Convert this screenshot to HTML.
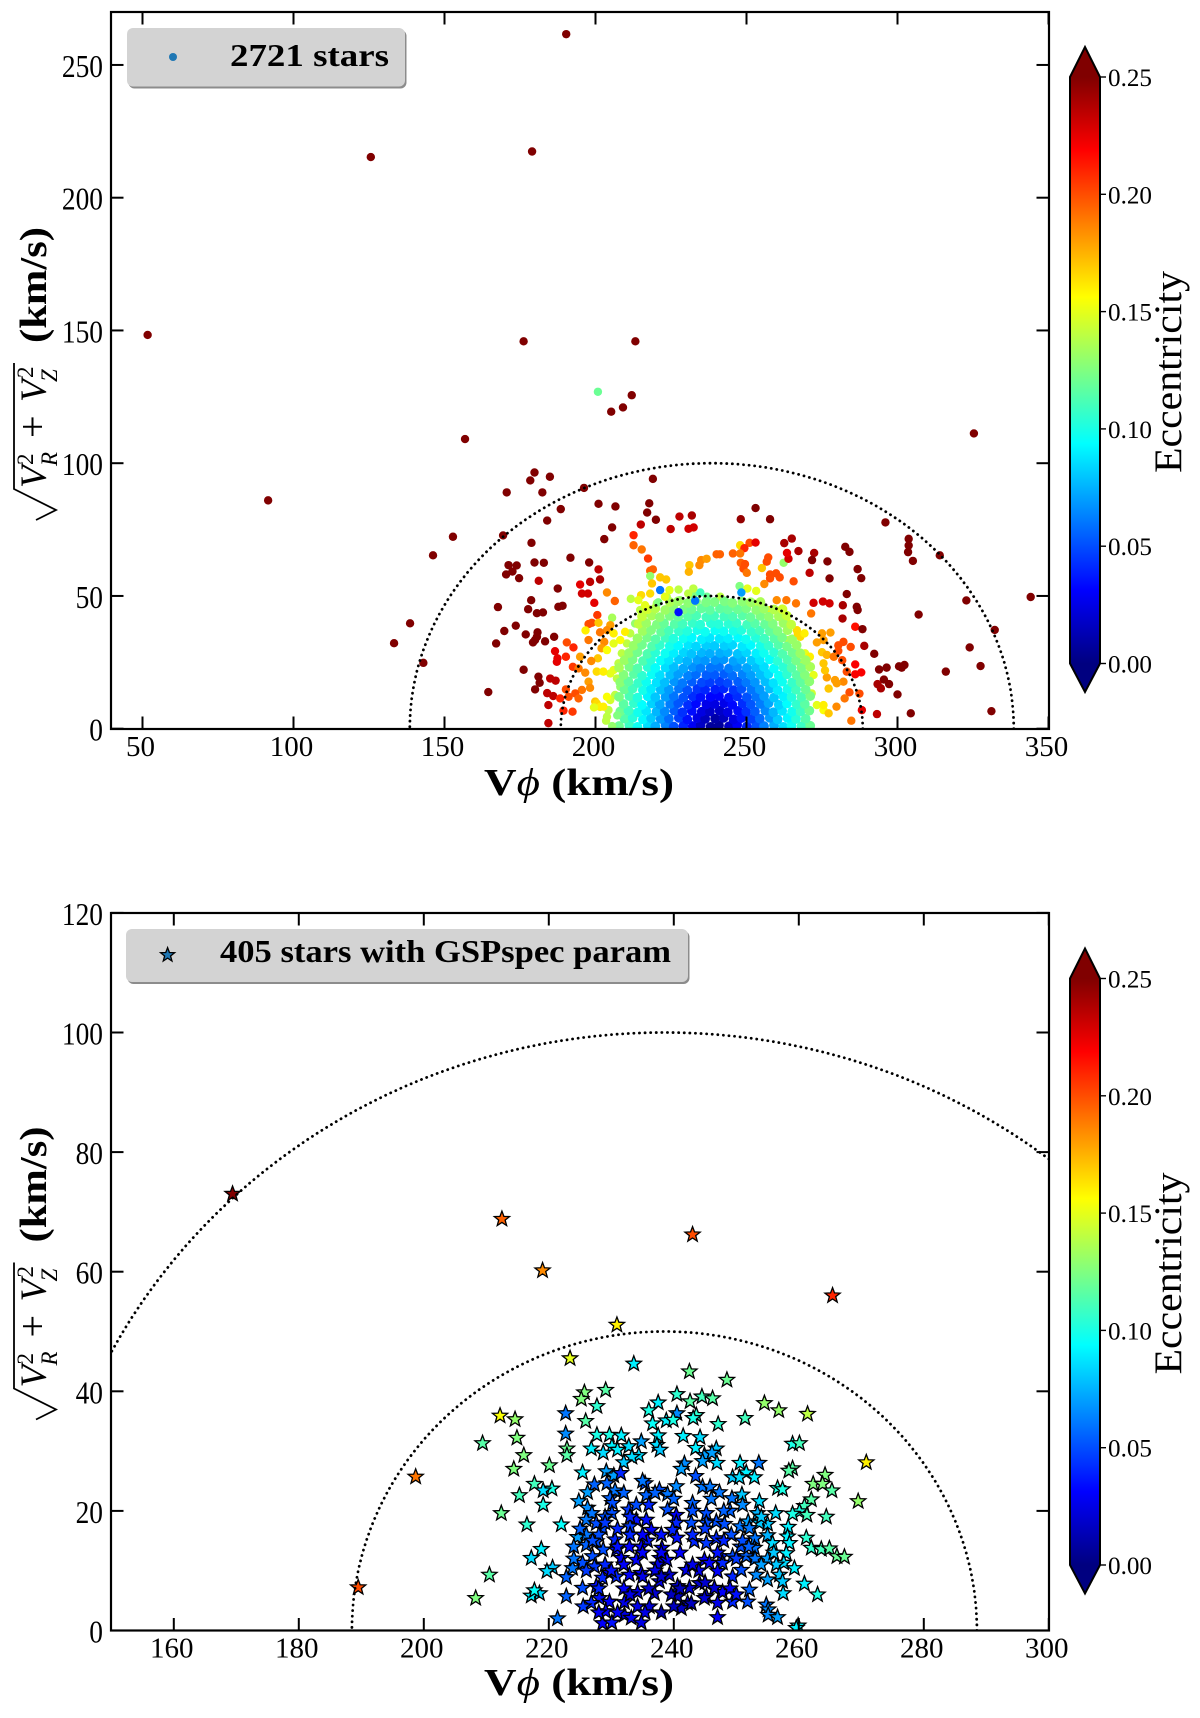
<!DOCTYPE html>
<html lang="en">
<head>
<meta charset="utf-8">
<title>Eccentricity in the Toomre diagram</title>
<style>
html,body{margin:0;padding:0;background:#fff;}
svg{display:block;font-family:"Liberation Serif",serif;}
text{fill:#000;}
</style>
</head>
<body>
<svg id="figure" xmlns="http://www.w3.org/2000/svg" width="1200" height="1718" viewBox="0 0 1200 1718">
  <defs>
    <clipPath id="clip-top"><rect x="111" y="12" width="938" height="717"></rect></clipPath>
    <clipPath id="clip-bottom"><rect x="111" y="913" width="938" height="717.5"></rect></clipPath>
    <linearGradient id="jet-gradient-top" x1="0" y1="1" x2="0" y2="0"></linearGradient>
    <linearGradient id="jet-gradient-bottom" x1="0" y1="1" x2="0" y2="0"></linearGradient>
  </defs>

  <g id="top-plot">
    <g id="top-marks" clip-path="url(#clip-top)"></g>
    <g id="top-arcs" clip-path="url(#clip-top)"></g>
    <g id="top-axes"></g>
    <g>
      <rect x="128.5" y="30" width="278" height="58.5" rx="6" fill="#8c8c8c"></rect>
      <rect x="127" y="28" width="278" height="58.5" rx="6" fill="#d3d3d3"></rect>
      <circle cx="173" cy="57" r="4" fill="#1f77b4"></circle>
      <text x="230" y="66" font-size="32" font-weight="700" textLength="159" lengthAdjust="spacingAndGlyphs">2721 stars</text>
    </g>
    <text x="484" y="795" font-size="38" font-weight="700" textLength="190" lengthAdjust="spacingAndGlyphs">V<tspan font-weight="400" font-style="italic">ϕ</tspan> (km/s)</text>
    <g>
      <path d="M14,363 L14,489 L56,510 L36,520" fill="none" stroke="#000" stroke-width="1.8"></path>
      <g transform="translate(46,520) rotate(-90)">
        <text x="32" y="0" font-size="37" font-style="italic">V</text>
        <text x="54" y="11" font-size="23" font-style="italic">R</text>
        <text x="55" y="-13" font-size="23">2</text>
        <text x="82" y="0" font-size="40">+</text>
        <text x="118" y="0" font-size="37" font-style="italic">V</text>
        <text x="138" y="11" font-size="23" font-style="italic">Z</text>
        <text x="142" y="-13" font-size="23">2</text>
        <text x="177" y="0" font-size="38" font-weight="700" textLength="116" lengthAdjust="spacingAndGlyphs">(km/s)</text>
      </g>
    </g>
    <g id="top-cbar"></g>
  </g>

  <g id="bottom-plot">
    <g id="bottom-marks" clip-path="url(#clip-bottom)"></g>
    <g id="bottom-arcs" clip-path="url(#clip-bottom)"></g>
    <g id="bottom-axes"></g>
    <g>
      <rect x="127.5" y="931" width="562" height="53" rx="6" fill="#8c8c8c"></rect>
      <rect x="126" y="929" width="562" height="53" rx="6" fill="#d3d3d3"></rect>
      <polygon id="legend-star" fill="#1f77b4" stroke="#000" stroke-width="1.3"></polygon>
      <text x="220" y="962" font-size="32" font-weight="700" textLength="451" lengthAdjust="spacingAndGlyphs">405 stars with GSPspec param</text>
    </g>
    <text x="484" y="1695" font-size="38" font-weight="700" textLength="190" lengthAdjust="spacingAndGlyphs">V<tspan font-weight="400" font-style="italic">ϕ</tspan> (km/s)</text>
    <g>
      <path d="M14,1262.5 L14,1388.5 L56,1409.5 L36,1419.5" fill="none" stroke="#000" stroke-width="1.8"></path>
      <g transform="translate(46,1419.5) rotate(-90)">
        <text x="32" y="0" font-size="37" font-style="italic">V</text>
        <text x="54" y="11" font-size="23" font-style="italic">R</text>
        <text x="55" y="-13" font-size="23">2</text>
        <text x="82" y="0" font-size="40">+</text>
        <text x="118" y="0" font-size="37" font-style="italic">V</text>
        <text x="138" y="11" font-size="23" font-style="italic">Z</text>
        <text x="142" y="-13" font-size="23">2</text>
        <text x="177" y="0" font-size="38" font-weight="700" textLength="116" lengthAdjust="spacingAndGlyphs">(km/s)</text>
      </g>
    </g>
    <g id="bottom-cbar"></g>
  </g>
</svg>

<script>
/* ---------- tick labels ---------- */
const topXTicks = [50,100,150,200,250,300,350];
const topYTicks = [0,50,100,150,200,250];
const bottomXTicks = [160,180,200,220,240,260,280,300];
const bottomYTicks = [0,20,40,60,80,100,120];
const cbarTicks = ['0.00','0.05','0.10','0.15','0.20','0.25'];
const arcRadii = [50,100];
const arcCentre = 238.5;

/* ---------- top panel: yellow-green rim of the distribution ---------- */
const rimVphi = [
206.5,208.2,207.1,206,207.6,208.7,210.4,211.5,213.1,208.2,
209.8,214.8,217.5,220.3,223.6,228,232.4,236.9,241.3,243,
245.7,252.3,255.1,257.8,260.6,263.4,266.7,267.8,263.9,269.4,
271,267.2,270,272.2,268.9,271.6,273.3,269.4,275.5,266.1,
269.4,204.9,204.3,208.2,204.9,203.8,199.9,202.6,211.5
];
const rimVperp = [
12.7,15.8,18.9,22.1,24.6,28.4,32.1,35.9,39.6,33.4,
36.5,44.7,43.4,47.2,49.7,48.4,50.3,49.7,49.7,47.2,
45.9,47.2,44.7,44.7,43.4,40.3,37.1,34.6,33.4,28.4,
27.1,25.2,24.6,20.2,18.3,13.3,8.9,8.3,7,3.3,
3,10.8,7,5.1,20.8,12,10.2,8.3,6.4
];
const rimEcc = [
.14,.13,.14,.15,.14,.14,.14,.14,.13,.155,
.16,.14,.13,.135,.14,.13,.125,.12,.14,.14,
.125,.15,.15,.16,.155,.15,.165,.165,.14,.15,
.16,.145,.15,.15,.14,.145,.15,.13,.155,.125,
.135,.145,.14,.12,.15,.155,.17,.16,.11
];

/* ---------- top panel: dense core of the distribution ---------- */
const coreVphi = [
207.8,211.2,213.9,217.3,219.8,223.2,225.9,229.1,232.2,234.8,238.1,240.9,244.2,246.9,250.1,253.2,255.8,259.1,262.2,264.9,268.2,271.1,
209.6,212.3,215.7,218.4,221.6,224.3,227.6,230.4,233.7,236.3,239.6,242.4,245.7,248.3,251.6,254.4,257.7,260.3,263.6,266.4,269.6,
208.2,210.9,214.1,216.8,220.2,222.9,226.1,228.8,231.9,235.2,237.9,241.1,243.8,247.2,249.9,252.8,256.2,258.9,261.8,265.1,267.9,270.8,
209.3,212.7,215.4,218.6,221.3,224.7,227.4,230.6,233.3,236.7,239.4,242.6,245.3,248.7,251.4,254.6,257.3,260.7,263.4,266.6,269.3,
207.8,211.2,213.9,217.3,219.8,223.2,225.9,229.1,232.2,234.8,238.1,240.9,244.2,246.9,250.1,253.2,255.8,259.1,262.2,264.9,268.2,271.1,
209.6,212.3,215.7,218.4,221.6,224.3,227.6,230.4,233.7,236.3,239.6,242.4,245.7,248.3,251.6,254.4,257.7,260.3,263.6,266.4,269.6,
208.2,210.9,214.1,216.8,220.2,222.9,226.1,228.8,231.9,235.2,237.9,241.1,243.8,247.2,249.9,252.8,256.2,258.9,261.8,265.1,267.9,270.8,
209.3,212.7,215.4,218.6,221.3,224.7,227.4,230.6,233.3,236.7,239.4,242.6,245.3,248.7,251.4,254.6,257.3,260.7,263.4,266.6,269.3,
207.8,211.2,213.9,217.3,219.8,223.2,225.9,229.1,232.2,234.8,238.1,240.9,244.2,246.9,250.1,253.2,255.8,259.1,262.2,264.9,268.2,271.1,
209.6,212.3,215.7,218.4,221.6,224.3,227.6,230.4,233.7,236.3,239.6,242.4,245.7,248.3,251.6,254.4,257.7,260.3,263.6,266.4,269.6,
211.1,213.9,217.2,219.8,223.1,225.9,229.2,231.8,235.1,237.9,241.2,243.8,247.1,249.9,253.2,255.8,259.1,261.9,265.2,267.8,
212.6,215.4,218.7,221.3,224.6,227.4,230.7,233.3,236.6,239.4,242.7,245.3,248.6,251.4,254.7,257.3,260.6,263.4,266.6,
213.9,217.1,219.9,223.2,225.8,229.1,231.9,235.2,237.8,241.1,243.9,247.2,249.8,253.1,255.9,259.2,261.8,265.1,
215.6,218.4,221.7,224.3,227.6,230.4,233.7,236.3,239.6,242.4,245.7,248.3,251.6,254.4,257.7,260.3,263.6,
214.3,216.8,220.3,222.7,226.2,228.8,232.1,234.7,238.2,240.8,244.1,246.7,250.2,252.8,256.1,258.7,262.2,264.8,
215.4,218.7,221.3,224.6,227.4,230.6,233.4,236.7,239.3,242.6,245.4,248.7,251.3,254.6,257.4,260.7,263.3,
217.2,219.8,223.1,225.9,229.2,231.8,235.1,237.9,241.2,243.8,247.1,249.9,253.2,255.8,259.1,261.9,
224.6,227.4,230.7,233.3,236.6,239.4,242.7,245.3,248.6,251.4,254.6
];
const coreVperp = [
1,1.3,.7,1.2,.9,1.4,.8,1.1,1,1.3,.7,1.2,.9,1.4,.8,1.1,1,1.3,.7,1.2,.9,1.1,
3.8,4.1,3.5,4,3.7,3.8,4.1,3.5,4,3.7,3.8,4.1,3.5,4,3.7,3.8,4.1,3.5,4,3.7,3.8,
6.5,6.8,6.2,6.7,6.4,6.5,6.8,6.2,6.7,6.4,6.5,6.8,6.2,6.7,6.4,6.5,6.8,6.2,6.7,6.4,6.5,6.8,
9.3,9.6,9,9.5,9.2,9.3,9.6,9,9.5,9.2,9.3,9.6,9,9.5,9.2,9.3,9.6,9,9.5,9.2,9.3,
12,12.3,11.7,12.2,11.9,12,12.3,11.7,12.2,11.9,12,12.3,11.7,12.2,11.9,12,12.3,11.7,12.2,11.9,12,12.3,
14.8,15.1,14.5,15,14.7,14.8,15.1,14.5,15,14.7,14.8,15.1,14.5,15,14.7,14.8,15.1,14.5,15,14.7,14.8,
17.5,17.8,17.2,17.7,17.4,17.5,17.8,17.2,17.7,17.4,17.5,17.8,17.2,17.7,17.4,17.5,17.8,17.2,17.7,17.4,17.5,17.8,
20.3,20.6,20,20.5,20.2,20.3,20.6,20,20.5,20.2,20.3,20.6,20,20.5,20.2,20.3,20.6,20,20.5,20.2,20.3,
23,23.3,22.7,23.2,22.9,23,23.3,22.7,23.2,22.9,23,23.3,22.7,23.2,22.9,23,23.3,22.7,23.2,22.9,23,23.3,
25.8,26.1,25.5,26,25.7,25.8,26.1,25.5,26,25.7,25.8,26.1,25.5,26,25.7,25.8,26.1,25.5,26,25.7,25.8,
28.5,28.8,28.2,28.7,28.4,28.5,28.8,28.2,28.7,28.4,28.5,28.8,28.2,28.7,28.4,28.5,28.8,28.2,28.7,28.4,
31.3,31.6,31,31.5,31.2,31.3,31.6,31,31.5,31.2,31.3,31.6,31,31.5,31.2,31.3,31.6,31,31.5,
34,34.3,33.7,34.2,33.9,34,34.3,33.7,34.2,33.9,34,34.3,33.7,34.2,33.9,34,34.3,33.7,
36.8,37.1,36.5,37,36.7,36.8,37.1,36.5,37,36.7,36.8,37.1,36.5,37,36.7,36.8,37.1,
39.5,39.8,39.2,39.7,39.4,39.5,39.8,39.2,39.7,39.4,39.5,39.8,39.2,39.7,39.4,39.5,39.8,39.2,
42.3,42.6,42,42.5,42.2,42.3,42.6,42,42.5,42.2,42.3,42.6,42,42.5,42.2,42.3,42.6,
45,45.3,44.7,45.2,44.9,45,45.3,44.7,45.2,44.9,45,45.3,44.7,45.2,44.9,45,
47.7,48,47.4,47.9,47.6,47.7,48,47.4,47.9,47.6,47.7
];
const coreEcc = [
.12,.108,.097,.086,.074,.063,.051,.04,.029,.017,.007,.007,.017,.029,.04,.051,.063,.074,.086,.097,.108,.12,
.114,.103,.092,.081,.069,.058,.047,.035,.025,.015,.01,.015,.025,.035,.047,.058,.069,.081,.092,.103,.114,
.121,.109,.098,.088,.076,.065,.054,.043,.034,.024,.018,.018,.024,.034,.043,.054,.065,.076,.088,.098,.109,.121,
.116,.106,.094,.083,.072,.062,.052,.042,.033,.026,.024,.026,.033,.042,.052,.062,.072,.083,.094,.106,.116,
.124,.112,.102,.091,.08,.07,.06,.051,.042,.035,.032,.032,.035,.042,.051,.06,.07,.08,.091,.102,.112,.124,
.12,.11,.099,.089,.078,.069,.06,.051,.044,.04,.038,.04,.044,.051,.06,.069,.078,.089,.099,.11,.12,
.128,.117,.107,.097,.087,.078,.068,.061,.054,.049,.046,.046,.049,.054,.061,.068,.078,.087,.097,.107,.117,.128,
.126,.116,.105,.096,.086,.078,.07,.063,.058,.054,.053,.054,.058,.063,.07,.078,.086,.096,.105,.116,.126,
.135,.124,.114,.104,.095,.086,.078,.072,.067,.062,.06,.06,.062,.067,.072,.078,.086,.095,.104,.114,.124,.135,
.132,.123,.113,.104,.095,.088,.081,.075,.071,.068,.067,.068,.071,.075,.081,.088,.095,.104,.113,.123,.132,
.131,.122,.113,.104,.097,.09,.084,.079,.076,.074,.074,.076,.079,.084,.09,.097,.104,.113,.122,.131,
.131,.122,.114,.106,.099,.093,.088,.084,.082,.081,.082,.084,.088,.093,.099,.106,.114,.122,.131,
.131,.123,.115,.109,.102,.097,.093,.09,.088,.088,.09,.093,.097,.102,.109,.115,.123,.131,
.133,.125,.118,.111,.106,.102,.099,.097,.096,.097,.099,.102,.106,.111,.118,.125,.133,
.141,.132,.125,.119,.115,.11,.107,.104,.103,.103,.104,.107,.11,.115,.119,.125,.132,.141,
.142,.135,.129,.124,.119,.115,.112,.11,.11,.11,.112,.115,.119,.124,.129,.135,.142,
.145,.138,.132,.128,.124,.12,.118,.117,.117,.118,.12,.124,.128,.132,.138,.145,
.136,.132,.128,.126,.124,.124,.124,.126,.128,.132,.136
];

/* ---------- top panel: sparse halo and outliers ---------- */
const haloVphi = [
190.3,125.6,179,51.7,176.2,213.2,205.2,209.1,212,156.8,
325.3,91.6,133.3,138.6,143,146.2,152.8,344.1,332.2,331.1,
296,303.7,303.7,303.5,314,305.1,307,316,322.8,323.9,
327.5,304.4,302.3,300.5,179.8,184.9,178.4,196.2,219,170.6,
182.4,188.5,201,206.6,217.8,217.1,220,184,205.5,202.9,
169.4,178.8,191.7,171.2,173.9,170.4,172.5,174.7,179.8,182.9,
197.9,187.5,178.7,167.7,177.7,180.6,182.6,187.7,189.1,173.6,
169.8,176.9,180.8,180.6,180,179.3,183.3,186.3,167.1,176.2,
164.5,181.1,181.5,180,200.8,
181.2,185,186.8,184,186,184.4,184.4,186.6,187.4,187.2,
190.2,192.7,190.5,194.9,198.2,201.5,201,195.5,197.5,199.6,
203.8,206.4,200.6,197.7,198.8,201,196.7,205.5,204.9,203.8,
201.5,197.7,202.9,202,206,206,203.8,194.9,200.8,198.6,
192.5,194.4,196.6,200.4,202.6,197.7,198.2,195.5,193.3,194.4,
190.2,188.3,191.1,189.4,192.4,200.4,201.5,203.8,212.6,212.6,
215.3,215,217.4,218.1,219,218.1,221.4,223.4,218.7,215.1,
218.1,221.4,224.5,223,211.7,214.2,216.4,220.8,227.5,227.5,
233,234.7,232.4,230.7,231.1,230.9,234.4,235,236.8,240.1,
241.2,245.5,227.8,231.9,224.9,230.8,232.5,248.1,253,257.8,
247.9,251,253,249.3,247.9,248.1,249.5,249,250.1,255.1,
256.7,257.2,262.3,263.9,263.4,262.5,265,267.2,272.4,271.7,
276.8,282.7,284.1,286.8,288,277.5,270.9,257.8,259.8,261,
257.8,255.9,253.2,250.3,247.7,248.3,265.6,260,263.2,266.4,
272.2,275.3,277.5,271.4,281.9,283.2,286.5,286.8,281.8,286,
288.4,289,292.3,275,277.8,273.3,275.5,267,269.2,282.1,
280.4,284.5,280.4,275,276.6,278.9,281.7,286,288,286,
283.2,282.1,279.9,276.6,277.2,279.3,275.5,276,293.9,296.4,
295.5,297.2,293.4,294.5,300,301.4,284.1,282.5,279.8,277.2,
275.5,287.4,288.2,293.2,284.7,199.5,203.5,205.5,207.2
];
const haloVperp = [
261.6,215.3,217.4,148.3,145.9,145.9,119.4,121,125.6,109.1,
111.2,86,32.2,39.7,24.8,65.3,72.3,49.6,37.2,6.6,
77.7,71.5,69,66.5,65.3,63.2,43,21.5,48.3,30.6,
23.6,5.8,24,23.5,96.5,94.9,93.5,90.7,94.1,89,
89,82.7,84.7,83.7,84.9,81.4,78.7,78.4,75.8,71.4,
72.8,70,64.4,61.6,61.5,58.1,59.2,56.7,62.6,62.5,
62.6,52.8,48.4,45.8,45,43.5,43.8,45.9,46.3,38.8,
36.8,35.5,36.3,34.6,33.4,32.5,32.9,34.6,32.1,22.2,
13.8,19.6,17.3,14.8,126.9,
55.7,18.9,18.1,13.4,12.3,8.9,2.1,29.2,26.5,25.2,
27.1,30.6,32.5,54.3,55.3,56.2,60,50.9,50.9,47.4,
51.3,48.1,42.8,39.4,39.9,39.9,37,41.8,39,37.1,
36.3,33.4,32.7,30.3,35.9,32.1,29.6,27.1,26.5,25.5,
23.3,22.7,21.1,21.5,21.5,17.7,15.4,14.6,13.3,11.4,
14.8,11.4,12,6.8,6.4,9.5,8.2,4.5,72.9,69.1,
67.5,76.9,64.1,59.5,60,57.5,57,56.2,54.7,50.3,
50.9,52.2,52.2,49.7,48.9,48.4,46.5,47.6,52.4,43.9,
48.2,51.3,52.8,50.9,61.6,59.1,61.6,63.5,64,65.7,
65.7,66,79.9,80.3,75.2,75.3,75.8,78.9,83.1,78.9,
69.1,70,70.1,68,66,62.5,62,60.3,58.7,60.5,
62.9,64.5,62.5,64,66.2,69.9,71.6,66.9,66.2,63.5,
63,68.5,66.6,60.1,56.7,56.6,58.7,58.1,58.5,57,
56.6,54.5,51.9,52.8,53.7,51.3,55.5,48.4,48.4,47.2,
47.4,47.9,47.2,43.4,46.5,50.7,45.9,44.7,41.5,38.4,
37.5,31.2,28.2,35.9,36.2,32.5,33.4,35.9,35.9,32.7,
31.4,30.8,29.3,28.8,27.8,27.1,25.8,24.2,21.2,20.5,
21.5,17.7,17.1,19.3,15.1,18.3,24.6,22,22.3,23,
18.5,16.8,16.8,15.2,12.9,23,13.7,11.4,8.3,5.8,
8.9,13.2,7,5.5,3,8,3,1,5
];
const haloEcc = [
.3,.3,.3,.3,.3,.3,.3,.3,.3,.3,
.3,.3,.3,.3,.3,.3,.3,.3,.3,.3,
.3,.3,.3,.3,.3,.3,.3,.3,.3,.3,
.3,.3,.3,.3,.3,.3,.3,.3,.3,.3,
.3,.3,.3,.3,.3,.3,.26,.3,.3,.3,
.3,.3,.3,.3,.3,.3,.3,.3,.3,.3,
.3,.3,.3,.3,.3,.3,.3,.3,.3,.3,
.3,.3,.3,.3,.3,.3,.3,.3,.3,.3,
.3,.26,.26,.26,.12,
.235,.235,.235,.235,.235,.235,.235,.225,.225,.225,
.21,.21,.2,.225,.235,.24,.235,.23,.23,.225,
.185,.195,.205,.2,.2,.17,.16,.135,.18,.185,
.19,.19,.185,.18,.16,.15,.155,.18,.17,.185,
.205,.19,.185,.165,.16,.18,.185,.19,.2,.195,
.2,.21,.2,.21,.205,.165,.16,.14,.21,.195,
.19,.235,.205,.195,.195,.13,.17,.17,.17,.165,
.165,.06,.15,.15,.14,.15,.15,.125,.14,.035,
.06,.11,.14,.14,.17,.175,.185,.185,.18,.195,
.195,.195,.235,.24,.235,.23,.23,.245,.28,.26,
.165,.2,.225,.21,.19,.195,.2,.2,.19,.17,
.2,.2,.13,.23,.225,.24,.24,.24,.24,.25,
.26,.27,.27,.27,.27,.26,.235,.2,.2,.2,
.2,.185,.15,.15,.125,.07,.2,.185,.19,.19,
.23,.23,.23,.19,.24,.27,.27,.27,.24,.215,
.27,.24,.27,.18,.18,.18,.18,.165,.16,.2,
.2,.2,.2,.17,.175,.19,.2,.22,.22,.22,
.2,.185,.18,.18,.17,.18,.17,.17,.27,.27,
.27,.27,.24,.24,.27,.27,.2,.19,.185,.17,
.16,.2,.225,.235,.19,.15,.14,.13,.125
];

/* ---------- bottom panel: stars with GSPspec parameters ---------- */
const starVphi = [
169.4,212.5,219,243,265.4,198.7,189.5,230.9,223.4,233.6,
242.5,248.5,229.1,225.7,225.2,227.7,222.7,212.2,214.6,222.7,
214.9,209.4,222.9,222.9,216,225.9,240.5,237.5,236,242.6,
244.5,246.2,254.5,256.8,261.4,251.4,247.1,240.5,243.6,243.1,
238.8,239.9,236.6,237.5,227.7,229.7,231.6,241.5,244.2,259,
260.1,234.8,230.1,232.8,237.3,231,237.8,243.5,226.8,228.7,
246.8,244.9,234.4,233.3,246.1,220.1,214.4,225.4,232,246.9,
250.6,253.6,244.6,241.7,259,258.4,229.2,241.2,230.4,231.5,
251.6,249.4,250.5,252.9,243.5,264.2,217.7,220.5,219.1,227.3,
229.3,235.4,262.3,263.8,256.6,257.4,265.3,240.4,244.6,245.8,
237.7,239,235.6,237,247.3,243,226.2,230.6,229.8,215.3,
269.5,270.8,262,249.3,250.9,253.7,219.1,224.8,230.2,260.9,
260.1,259,261.3,256.3,253.4,264.4,212.4,216.5,222,232.8,
239,240.4,245.2,226.2,226.9,226,230.1,234,235.6,233,
236.4,240.4,242.8,246.8,248.1,245.2,250.6,251.9,255,258.3,
253.7,228.6,227.6,252.1,239.8,249.2,224.6,255,253,258.2,
261.2,240.5,235.8,230.6,243.3,246.8,245.2,255.8,258.5,250.7,
252.9,262,263.6,264.9,266.1,267.3,238.1,232.9,234.8,218.8,
217.2,226,227.6,228.7,230.8,227,231.6,234,237.8,238.9,
244.9,247.6,247.8,249.4,251.6,258,257.6,256.4,259.3,223.8,
220.6,219.7,210.5,222.8,225.4,227.3,229.7,230.8,228.6,232.9,
234.8,237.4,237.7,239.3,242,244.1,245.7,247,249.4,250.8,
253.2,255,256.9,260.9,257.4,257.5,263,252.1,249.4,251.8,
247.8,246.5,245.2,242.5,240.6,242.2,240.6,239.6,236.9,234.2,
227.6,225.4,222.8,217.2,218.5,217.7,208.3,228.1,229.7,226.8,
225.5,232.1,234.2,236.1,235.4,229.1,232.1,233.2,234.8,241.2,
242.8,247,247,244.9,254.8,255.1,255.1,256.6,221.4,228.6,
230.1,259.9,259.6,
228,229,231,233,235,236,238,241,243,249,
224,229,232,240,244,248,251,253,255,226,
225,227,229,231,233,235,237,232,230,228,
236,238,241,243,245,247,249,250,252,254,
231,233,235,238,224,226,228,234,238,243,
246,248,251,254,256,232,235,240,245,250
];
const starVperp = [
73,68.8,60.2,66.2,56,25.7,7.2,51.1,45.5,44.6,
43.3,41.9,40.2,39.8,38.7,37.5,36.3,35.9,35.3,32.9,
32.2,31.3,30.4,29.3,29.3,35,39.5,38.1,36.8,38.3,
39.1,38.8,38,36.8,36.2,35.5,34.5,36.3,36,35.5,
35.1,35.2,34.6,32.6,32.7,32.7,32.6,32.5,32.3,31.2,
31.3,31.6,30.8,30.8,31,30.2,30.2,30.5,30.4,29.7,
30.4,29.3,29.3,29,29.7,27.6,27,26.4,28.1,28,
28,28,28.3,27.9,27.1,26.7,26.6,27,25.9,26.3,
26.4,25.6,25.6,25.6,25.8,26,24.5,23.7,23.4,24.4,
24.6,24.6,24.5,24.5,23.8,23.6,23.4,24.1,24,24,
23.5,22.8,22.6,23,23.1,21.3,23.1,23.4,22.1,22.6,
21.6,28.1,21.9,22.1,22.7,21.6,21,21.6,21.3,20.8,
19.9,19.5,19.3,19.6,19.6,19,19.6,17.7,17.7,20.2,
20.2,19.3,19.6,20.5,19.6,18.5,19.6,18.5,18.5,17.4,
16.8,18,18,18.2,17.8,18,17.4,18.2,17.8,17.3,
18,17.1,17.9,17.1,16.8,16,15.6,15.9,15.4,15.7,
15.5,15.5,15,15.2,14.9,15.4,14.6,14.6,14.6,14,
13.8,13.8,13.6,13.7,12.4,12.3,13.8,14,14,13.6,
12.1,14.3,14.9,13.5,13.5,12.4,12.1,11.8,12.1,11.8,
11.8,12.4,11.3,12.4,12.4,12.9,11.3,11,10.4,10.4,
10.5,9.9,9.3,8.9,11.3,10.7,9.6,9,8.8,9.3,
9.6,11,8.2,9.3,10.1,7.9,11.3,9.9,9,10.1,
9.3,8.5,9.3,7.8,8.2,6.2,6,6.8,4.8,4.8,
6.4,7.1,5.7,7.1,7.4,4.6,5.7,6,6.2,6.4,
7.4,7.1,5.7,5.8,6.2,6.7,5.4,5.4,4.8,4.6,
4,4.7,4,4,3,3.2,2.6,2.1,1.3,3.7,
4.5,4.6,2.2,5.4,4.3,3.5,2.6,2.2,2,1.2,
1.3,.8,.4,
16,19,17,19,16,21,13,13,16,20,
12,11,7,4,10,15,15,12,12,16,
17,15,18,14,16,13,10,11,10,7,
7,9,7,11,8,13,7,12,14,11,
3,6,9,3,14,10,3,21,16,20,
22,20,21,19,13,23,25,22,17,6
];
const starEcc = [
.26,.195,.185,.2,.21,.19,.2,.16,.15,.09,
.12,.12,.115,.125,.125,.105,.06,.155,.13,.065,
.125,.115,.12,.115,.125,.115,.105,.09,.1,.115,
.11,.115,.13,.13,.14,.11,.105,.065,.105,.1,
.09,.1,.095,.09,.1,.1,.09,.09,.085,.1,
.11,.07,.09,.085,.085,.09,.08,.09,.09,.085,
.08,.07,.085,.085,.07,.12,.125,.09,.08,.085,
.09,.06,.07,.065,.115,.115,.07,.07,.07,.04,
.09,.08,.085,.09,.05,.125,.11,.1,.085,.055,
.055,.05,.125,.125,.1,.1,.115,.065,.06,.06,
.05,.06,.055,.055,.06,.055,.07,.06,.055,.11,
.13,.16,.115,.06,.08,.085,.1,.07,.05,.11,
.1,.1,.11,.085,.075,.11,.12,.105,.095,.045,
.05,.03,.05,.065,.06,.06,.05,.035,.035,.045,
.03,.04,.05,.05,.05,.05,.06,.07,.08,.09,
.08,.05,.05,.06,.04,.05,.07,.075,.06,.09,
.105,.035,.035,.04,.04,.04,.045,.085,.09,.05,
.06,.105,.11,.115,.12,.12,.03,.03,.03,.09,
.085,.055,.05,.05,.035,.05,.03,.03,.03,.03,
.03,.04,.04,.05,.055,.09,.085,.08,.09,.06,
.08,.085,.115,.055,.05,.045,.03,.04,.04,.03,
.03,.025,.025,.02,.025,.02,.03,.03,.04,.05,
.065,.07,.08,.09,.08,.085,.1,.055,.04,.05,
.03,.02,.02,.02,.02,.02,.015,.015,.02,.025,
.035,.05,.055,.09,.085,.095,.125,.035,.03,.04,
.045,.025,.025,.02,.025,.03,.025,.03,.025,.015,
.015,.025,.03,.02,.06,.065,.065,.07,.06,.03,
.035,.09,.09,
.05,.05,.04,.04,.03,.04,.03,.03,.04,.055,
.06,.04,.03,.015,.025,.04,.05,.06,.07,.06,
.055,.05,.045,.035,.04,.03,.025,.03,.035,.04,
.02,.02,.015,.025,.02,.035,.03,.045,.055,.07,
.03,.025,.025,.01,.06,.045,.03,.05,.035,.05,
.06,.055,.065,.08,.08,.055,.06,.055,.045,.035
];

/* ---------- scales ---------- */
const NS = 'http://www.w3.org/2000/svg';
const eccMax = 0.25;
const topX = v => 595.5 + (v - 200) * 3.02;
const topY = e => 728.7 - e * 2.655;
const botX = v => 111.3 + (v - 150) * 6.25;
const botY = e => 1630.5 - e * 5.98;

function jet(value) {
  const t = Math.max(0, Math.min(1, value / eccMax));
  const ch = c => Math.round(255 * Math.max(0, Math.min(1, 1.5 - Math.abs(4 * t - c))));
  return 'rgb(' + ch(3) + ',' + ch(2) + ',' + ch(1) + ')';
}
function make(tag, parent, attrs) {
  const el = document.createElementNS(NS, tag);
  for (const k in attrs) el.setAttribute(k, attrs[k]);
  parent.appendChild(el);
  return el;
}
function starPoints(cx, cy, R) {
  const pts = [];
  for (let k = 0; k < 10; k++) {
    const r = k % 2 ? R * 0.42 : R;
    const a = -Math.PI / 2 + k * Math.PI / 5;
    pts.push((cx + r * Math.cos(a)).toFixed(2) + ',' + (cy + r * Math.sin(a)).toFixed(2));
  }
  return pts.join(' ');
}

/* ---------- marks ---------- */
const topMarks = document.getElementById('top-marks');
for (let i = 0; i < rimVphi.length; i++) {
  const el = make('circle', topMarks, {cx: topX(rimVphi[i]), cy: topY(rimVperp[i]), r: 4.2, fill: jet(rimEcc[i])});
  
  
}
for (let i = 0; i < coreVphi.length; i++) {
  const el = make('circle', topMarks, {cx: topX(coreVphi[i]), cy: topY(coreVperp[i]), r: 4.9, fill: jet(coreEcc[i])});
  
  
}
for (let i = 0; i < haloVphi.length; i++) {
  const el = make('circle', topMarks, {cx: topX(haloVphi[i]), cy: topY(haloVperp[i]), r: 4.2, fill: jet(haloEcc[i])});
  
  
}
const bottomMarks = document.getElementById('bottom-marks');
for (let i = 0; i < starVphi.length; i++) {
  const el = make('polygon', bottomMarks, {points: starPoints(botX(starVphi[i]), botY(starVperp[i]), 8), fill: jet(starEcc[i]), stroke: '#000', 'stroke-width': 1.3, 'stroke-linejoin': 'miter'});
  
  
}
document.getElementById('legend-star').setAttribute('points', starPoints(167.6, 955, 7.4));

/* ---------- dotted reference arcs ---------- */
function drawArcs(parent, sx, sy) {
  arcRadii.forEach(function (r) {
    const pts = [];
    for (let a = 0; a <= 180; a += 0.5) {
      const rad = a * Math.PI / 180;
      pts.push(sx(arcCentre + r * Math.cos(rad)).toFixed(1) + ',' + sy(r * Math.sin(rad)).toFixed(1));
    }
    const el = make('polyline', parent, {points: pts.join(' '), fill: 'none', stroke: '#000', 'stroke-width': 2.8, 'stroke-linecap': 'round', 'stroke-dasharray': '0.1 5.5'});
    
    
  });
}
drawArcs(document.getElementById('top-arcs'), topX, topY);
drawArcs(document.getElementById('bottom-arcs'), botX, botY);

/* ---------- axes ---------- */
function drawAxes(parent, sx, sy, xTicks, yTicks, L, R, T, B) {
  const frame = make('rect', parent, {x: L, y: T, width: R - L, height: B - T, fill: 'none', stroke: '#000', 'stroke-width': 2.2});
  
  
  const tickLen = 12.5;
  xTicks.forEach(function (v) {
    const x = sx(v);
    const low = make('line', parent, {x1: x, x2: x, y1: B, y2: B - tickLen, stroke: '#000', 'stroke-width': 2});
    
    
    const high = make('line', parent, {x1: x, x2: x, y1: T, y2: T + tickLen, stroke: '#000', 'stroke-width': 2});
    
    
    const label = make('text', parent, {x: x - 2, y: B + 27, 'font-size': 29, 'text-anchor': 'middle'});
    label.textContent = String(v);
    
    
  });
  yTicks.forEach(function (e) {
    const y = sy(e);
    const left = make('line', parent, {x1: L, x2: L + tickLen, y1: y, y2: y, stroke: '#000', 'stroke-width': 2});
    
    
    const right = make('line', parent, {x1: R, x2: R - tickLen, y1: y, y2: y, stroke: '#000', 'stroke-width': 2});
    
    
    const s = String(e);
    const label = make('text', parent, {x: L - 8, y: y + 12, 'font-size': 32, 'text-anchor': 'end', textLength: 13.7 * s.length, lengthAdjust: 'spacingAndGlyphs'});
    label.textContent = s;
    
    
  });
}
drawAxes(document.getElementById('top-axes'), topX, topY, topXTicks, topYTicks, 111, 1049, 12, 729);
drawAxes(document.getElementById('bottom-axes'), botX, botY, bottomXTicks, bottomYTicks, 111, 1049, 913, 1630.5);

/* ---------- colour bars ---------- */
function drawCbar(parent, gradId, offset) {
  const grad = document.getElementById(gradId);
  for (let k = 0; k <= 32; k++) {
    make('stop', grad, {offset: (k / 32), 'stop-color': jet(k / 32 * eccMax)});
  }
  const L = 1070, Rt = 1100, top = 77 + offset, bot = 663.5 + offset, tipT = 47 + offset, tipB = 692 + offset, mid = (L + Rt) / 2;
  const over = make('polygon', parent, {points: L + ',' + top + ' ' + mid + ',' + tipT + ' ' + Rt + ',' + top, fill: jet(eccMax)});
  
  
  const under = make('polygon', parent, {points: L + ',' + bot + ' ' + mid + ',' + tipB + ' ' + Rt + ',' + bot, fill: jet(0)});
  
  
  const body = make('rect', parent, {x: L, y: top, width: Rt - L, height: bot - top, fill: 'url(#' + gradId + ')'});
  
  
  const outline = make('polygon', parent, {points: [L + ',' + top, mid + ',' + tipT, Rt + ',' + top, Rt + ',' + bot, mid + ',' + tipB, L + ',' + bot].join(' '), fill: 'none', stroke: '#000', 'stroke-width': 2});
  
  
  cbarTicks.forEach(function (t) {
    const y = bot - (parseFloat(t) / eccMax) * (bot - top);
    const tick = make('line', parent, {x1: Rt, x2: Rt + 6, y1: y, y2: y, stroke: '#000', 'stroke-width': 1.4});
    
    
    const label = make('text', parent, {x: 1108, y: y + 9, 'font-size': 25, textLength: 44, lengthAdjust: 'spacingAndGlyphs'});
    label.textContent = t;
    
    
  });
  const title = make('text', parent, {x: 0, y: 0, 'font-size': 39, 'text-anchor': 'middle', transform: 'translate(1181,' + (372 + offset) + ') rotate(-90)', textLength: 202, lengthAdjust: 'spacingAndGlyphs'});
  title.textContent = 'Eccentricity';
  
  
}
drawCbar(document.getElementById('top-cbar'), 'jet-gradient-top', 0);
drawCbar(document.getElementById('bottom-cbar'), 'jet-gradient-bottom', 901.5);
</script>
</body>
</html>
